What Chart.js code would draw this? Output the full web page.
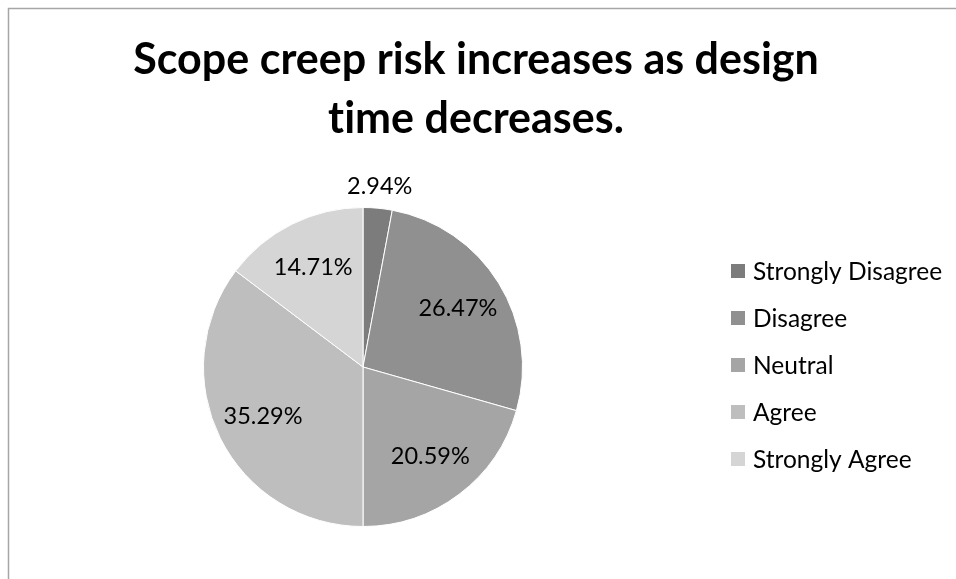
<!DOCTYPE html>
<html>
<head>
<meta charset="utf-8">
<script src="https://cdn.jsdelivr.net/npm/chart.js@4/dist/chart.umd.min.js"></script>
<style>
  html, body { margin: 0; padding: 0; background: #ffffff; }
  canvas { display: block; }
</style>
</head>
<body>
<canvas id="chart" width="956" height="579"></canvas>
<script>
// Survey responses
const titleLines = ['Scope creep risk increases as design', 'time decreases.'];
const categories = ['Strongly Disagree', 'Disagree', 'Neutral', 'Agree', 'Strongly Agree'];
const shares = [2.94, 26.47, 20.59, 35.29, 14.71];
const valueLabels = ['2.94%', '26.47%', '20.59%', '35.29%', '14.71%'];
const sliceColors = ['#7c7c7c', '#909090', '#a5a5a5', '#bebebe', '#d5d5d5'];

const FONT = 'Lato, "Open Sans", sans-serif';

// A tiny letter spacing keeps the browser from merging "ti" into a ligature
function plainText(ctx) {
  if ('letterSpacing' in ctx) ctx.letterSpacing = '0.01px';
}

// White page with the grey frame on the top and left edges
const framePlugin = {
  id: 'frame',
  beforeDraw(chart) {
    const ctx = chart.ctx;
    ctx.save();
    ctx.fillStyle = '#ffffff';
    ctx.fillRect(0, 0, chart.width, chart.height);
    ctx.strokeStyle = '#a6a6a6';
    ctx.lineWidth = 1.5;
    ctx.beginPath();
    ctx.moveTo(8.5, chart.height + 2);
    ctx.lineTo(8.5, 8.5);
    ctx.lineTo(chart.width + 2, 8.5);
    ctx.stroke();
    ctx.restore();
  }
};

// Two-line bold title
const titlePlugin = {
  id: 'twoLineTitle',
  afterDraw(chart) {
    const ctx = chart.ctx;
    ctx.save();
    plainText(ctx);
    ctx.fillStyle = '#000000';
    ctx.font = 'bold 43px ' + FONT;
    ctx.textAlign = 'center';
    ctx.textBaseline = 'alphabetic';
    titleLines.forEach((line, i) => ctx.fillText(line, 476, 74 + i * 59));
    ctx.restore();
  }
};

// Legend column on the right
const legendPlugin = {
  id: 'sideLegend',
  afterDraw(chart) {
    const ctx = chart.ctx;
    ctx.save();
    plainText(ctx);
    ctx.font = '24.5px ' + FONT;
    ctx.textBaseline = 'middle';
    ctx.textAlign = 'left';
    categories.forEach((name, i) => {
      const cy = 271 + i * 47;
      ctx.fillStyle = sliceColors[i];
      ctx.fillRect(731, cy - 7, 14, 14);
      ctx.fillStyle = '#000000';
      ctx.fillText(name, 753, cy + 1);
    });
    ctx.restore();
  }
};

// Percentage labels placed along each slice's bisector
const sliceLabelPlugin = {
  id: 'sliceLabels',
  afterDatasetsDraw(chart) {
    const ctx = chart.ctx;
    const arcs = chart.getDatasetMeta(0).data;
    ctx.save();
    plainText(ctx);
    ctx.font = '23.5px ' + FONT;
    ctx.fillStyle = '#000000';
    ctx.textAlign = 'center';
    ctx.textBaseline = 'middle';
    arcs.forEach((arc, i) => {
      const p = arc.getProps(['x', 'y', 'startAngle', 'endAngle', 'outerRadius'], true);
      const mid = (p.startAngle + p.endAngle) / 2;
      const r = shares[i] < 5 ? p.outerRadius + 22 : p.outerRadius * 0.7;
      ctx.fillText(valueLabels[i], p.x + Math.cos(mid) * r, p.y + Math.sin(mid) * r);
    });
    ctx.restore();
  }
};

new Chart(document.getElementById('chart'), {
  type: 'pie',
  data: {
    labels: categories,
    datasets: [{
      data: shares,
      backgroundColor: sliceColors,
      borderColor: '#ffffff',
      borderWidth: 1
    }]
  },
  options: {
    responsive: false,
    animation: false,
    layout: { padding: { left: 203, right: 433, top: 207, bottom: 52 } },
    plugins: {
      legend: { display: false },
      title: { display: false },
      tooltip: { enabled: false }
    }
  },
  plugins: [framePlugin, titlePlugin, legendPlugin, sliceLabelPlugin]
});
</script>
</body>
</html>
